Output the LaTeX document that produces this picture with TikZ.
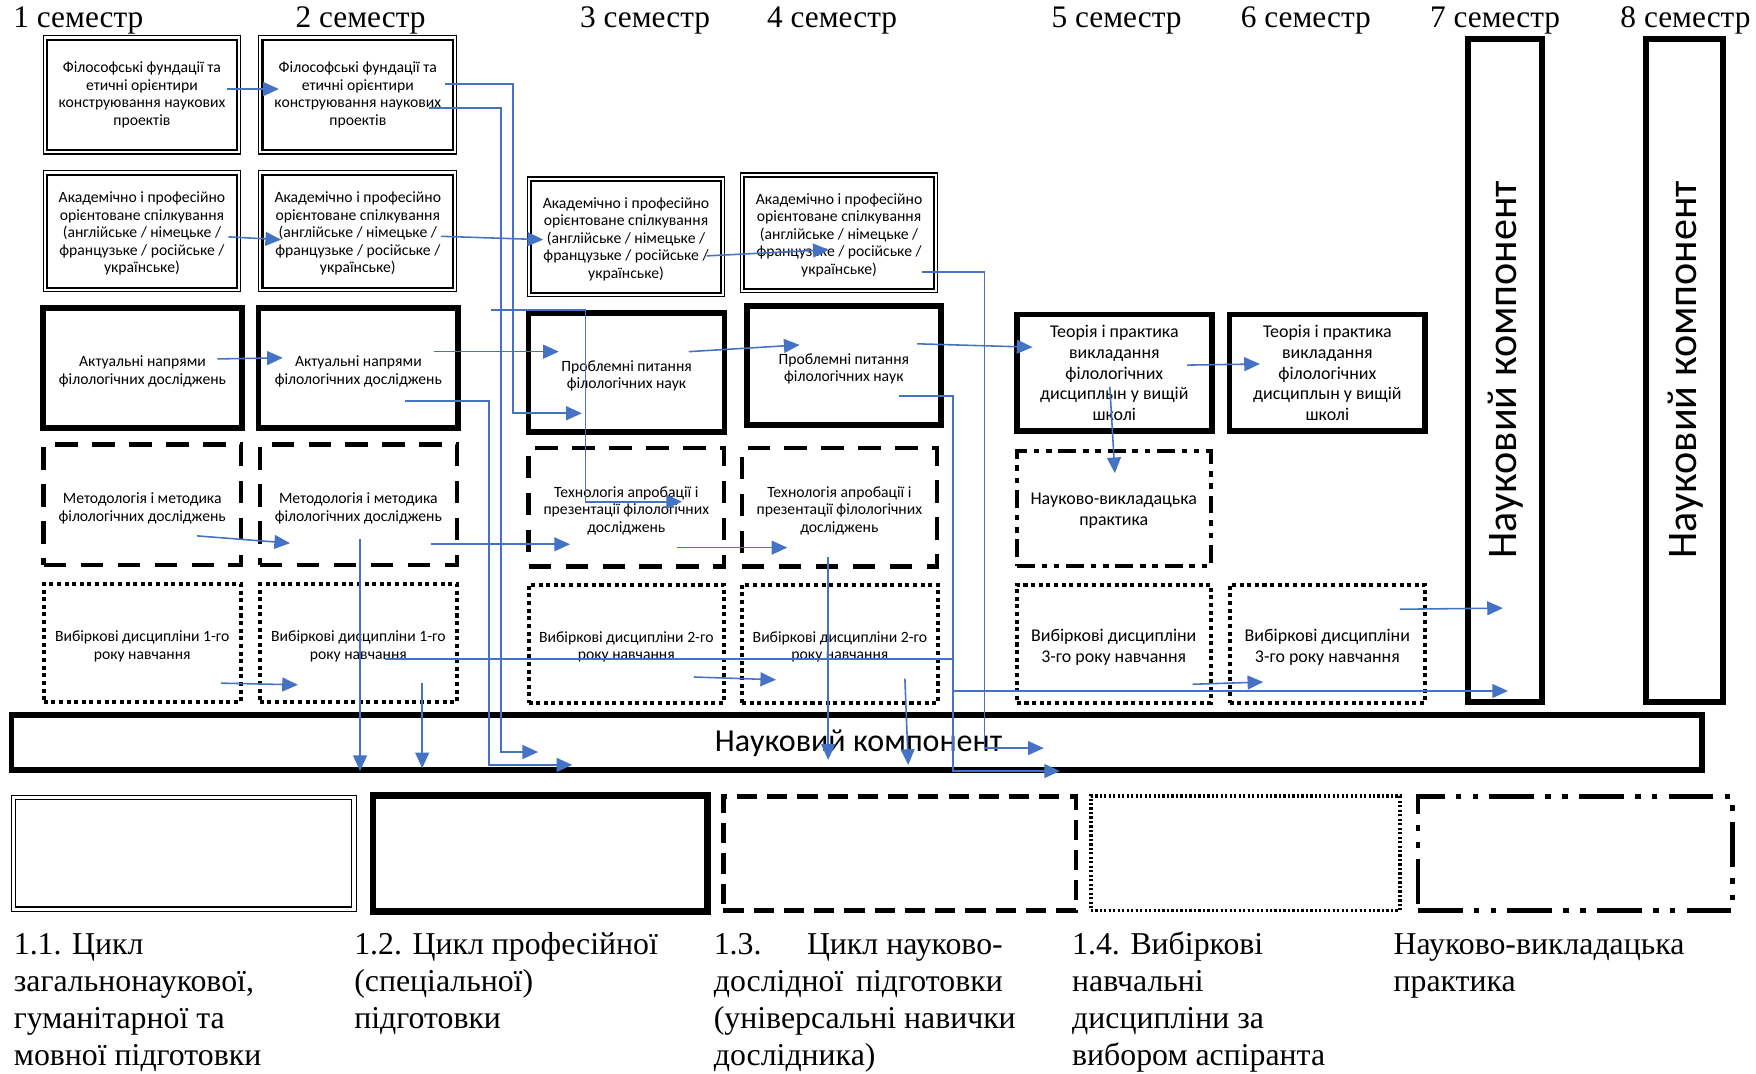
\documentclass[tikz,border=0pt]{standalone}
\usepackage{fontspec}
\setmainfont{Liberation Serif}
\newfontfamily\calib{Carlito}
\usetikzlibrary{arrows.meta,fit}
\definecolor{arrowblue}{RGB}{68,114,196}
\newcommand\smallf{\calib\fontsize{7}{7.85}\selectfont}
\newcommand\largef{\calib\fontsize{8}{9.2}\selectfont}
\begin{document}
\begin{tikzpicture}[x=0.5pt,y=-0.5pt,
  bx/.style={inner sep=0pt, outer sep=0pt},
  txt/.style={inner sep=0pt, align=center, font=\smallf},
  bigtxt/.style={inner sep=0pt, align=center, font=\largef},
  dbl/.style={bx, draw, line width=0.5pt},
  thk/.style={bx, draw, line width=2.5pt},
  dsh/.style={bx, draw, line width=2pt, dash pattern=on 10pt off 6.5pt},
  dtt/.style={bx, draw, line width=1.8pt, dash pattern=on 1.8pt off 1.6pt},
  ddd/.style={bx, draw, line width=1.8pt, dash pattern=on 8pt off 3pt on 2.5pt off 3pt on 2.5pt off 3pt},
  arr/.style={draw=arrowblue, line width=0.7pt, -{Triangle[length=7pt,width=6.2pt]}},
  sem/.style={font=\fontsize{14}{16}\selectfont, anchor=base, inner sep=0pt},
  leg/.style={font=\fontsize{14.2}{16.4}\selectfont, anchor=base west, align=left, inner sep=0pt}]
\useasboundingbox (0,0) rectangle (1568,959);

% semester labels
\node[sem] (s1) at (70,25) {1 семестр};
\node[sem] (s2) at (322,25) {2 семестр};
\node[sem] (s3) at (576,25) {3 семестр};
\node[sem] (s4) at (743,25) {4 семестр};
\node[sem] (s5) at (997,25) {5 семестр};
\node[sem] (s6) at (1166,25) {6 семестр};
\node[sem] (s7) at (1335,25) {7 семестр};
\node[sem] (s8) at (1505,25) {8 семестр};

% boxes
\node[dbl, fit={(38.5,32)(215,137.5)}] (A1) {};
\node[dbl, fit={(231,32)(408,137.5)}] (A2) {};
\node[dbl, fit={(38.5,152.5)(215,260.5)}] (B1) {};
\node[dbl, fit={(231,152.5)(408,260.5)}] (B2) {};
\node[dbl, fit={(471,158)(647,265)}] (B3) {};
\node[dbl, fit={(661,154.5)(837.5,261.5)}] (B4) {};
\foreach \n in {A1,A2,B1,B2,B3,B4}
  \draw[line width=0.9pt] ([shift={(1.7pt,-1.7pt)}]\n.north west) rectangle ([shift={(-1.7pt,1.7pt)}]\n.south east);
\node[thk, fit={(38.5,275)(216,382)}] (C1) {};
\node[thk, fit={(231,275)(409,382)}] (C2) {};
\node[thk, fit={(472,279.5)(647,385.5)}] (C3) {};
\node[thk, fit={(667,273)(840,379.5)}] (C4) {};
\node[thk, fit={(908,281)(1082,385)}] (C5) {};
\node[thk, fit={(1098,281)(1272.5,385)}] (C6) {};
\node[dsh, fit={(39,397)(215,504.5)}] (D1) {};
\node[dsh, fit={(232,397)(408,504.5)}] (D2) {};
\node[dsh, fit={(472,400)(646.5,506)}] (D3) {};
\node[dsh, fit={(662.5,400)(836.5,506)}] (D4) {};
\node[ddd, fit={(908,402.5)(1081,505.5)}] (D5) {};
\node[dtt, fit={(39,521.5)(215,627)}] (E1) {};
\node[dtt, fit={(232,521.5)(408,627)}] (E2) {};
\node[dtt, fit={(472,522)(646.5,627.5)}] (E3) {};
\node[dtt, fit={(662.5,522)(837.5,627.5)}] (E4) {};
\node[dtt, fit={(908,522)(1081,627.5)}] (E5) {};
\node[dtt, fit={(1098,522)(1272.5,627.5)}] (E6) {};

% box texts
\foreach \n in {A1,A2}
  \node[txt] (\n t) at (\n.center) {Філософські фундації та\\етичні орієнтири\\конструювання наукових\\проектів};
\foreach \n in {B1,B2,B3,B4}
  \node[txt] (\n t) at ([yshift=-1pt]\n.center) {Академічно і професійно\\орієнтоване спілкування\\(англійське / німецьке /\\французьке / російське /\\українське)};
\foreach \n in {C1,C2}
  \node[txt] (\n t) at ([yshift=-1.5pt]\n.center) {Актуальні напрями\\філологічних досліджень};
\foreach \n in {C3,C4}
  \node[txt] (\n t) at ([yshift=-1.5pt]\n.center) {Проблемні питання\\філологічних наук};
\foreach \n in {C5,C6}
  \node[bigtxt] (\n t) at (\n.center) {Теорія і практика\\викладання\\філологічних\\дисциплын у вищій\\школі};
\foreach \n in {D1,D2}
  \node[txt] (\n t) at ([yshift=-1.5pt]\n.center) {Методологія і методика\\філологічних досліджень};
\foreach \n in {D3,D4}
  \node[txt] (\n t) at ([yshift=-1.5pt]\n.center) {Технологія апробації і\\презентації філологічних\\досліджень};
\node[bigtxt] (D5t) at ([yshift=-1pt]D5.center) {Науково-викладацька\\практика};
\node[txt] (E1t) at ([yshift=-1.5pt]E1.center) {Вибіркові дисципліни 1-го\\року навчання};
\node[txt] (E2t) at ([yshift=-1.5pt]E2.center) {Вибіркові дисципліни 1-го\\року навчання};
\node[txt] (E3t) at ([yshift=-1.5pt]E3.center) {Вибіркові дисципліни 2-го\\року навчання};
\node[txt] (E4t) at ([yshift=-1.5pt]E4.center) {Вибіркові дисципліни 2-го\\року навчання};
\node[bigtxt] (E5t) at ([yshift=-1.5pt]E5.center) {Вибіркові дисципліни\\3-го року навчання};
\node[bigtxt] (E6t) at ([yshift=-1.5pt]E6.center) {Вибіркові дисципліни\\3-го року навчання};

% scientific component bars
\node[thk, fit={(10.3,638.5)(1520,687.6)}] (Bar) {};
\node[font=\calib\fontsize{14.3}{16}\selectfont, anchor=base, inner sep=0pt] (Bart) at (766.6,671) {Науковий компонент};
\node[thk, fit={(1311,35)(1377,627)}] (V7) {};
\node[thk, fit={(1470,35)(1538.5,627)}] (V8) {};
\node[font=\calib\fontsize{18.8}{20}\selectfont, rotate=90, anchor=base, inner sep=0pt] (V7t) at (1354,330) {Науковий компонент};
\node[font=\calib\fontsize{18.8}{20}\selectfont, rotate=90, anchor=base, inner sep=0pt] (V8t) at (1515,330) {Науковий компонент};

% legend boxes
\node[dbl, fit={(10,710)(318,814)}] (L1) {};
\draw[line width=0.7pt] ([shift={(2pt,-2pt)}]L1.north west) rectangle ([shift={(-2pt,2pt)}]L1.south east);
\node[bx, draw, line width=3pt, fit={(333,710)(632,814)}] (L2) {};
\node[bx, draw, line width=2pt, dash pattern=on 9pt off 4.5pt, fit={(646,711)(961,813)}] (L3) {};
\node[bx, draw, line width=1.6pt, dash pattern=on 1pt off 1pt, fit={(974,711)(1250,813)}] (L4) {};
\node[bx, draw, line width=2pt, dash pattern=on 20pt off 5pt on 2.5pt off 5pt on 2.5pt off 5pt, fit={(1266,711)(1547,813)}] (L5) {};

% legend texts (anchor at the baseline of the last line)
\node[leg] (T1) at (12,951) {1.1. Цикл\\загальнонаукової,\\гуманітарної та\\мовної підготовки};
\node[leg] (T2) at (316,918.2) {1.2. Цикл професійної\\(спеціальної)\\підготовки};
\node[leg] (T3) at (637,951) {\makebox[129pt][l]{1.3.\hfill Цикл науково-}\\\makebox[129pt][l]{дослідної\hfill підготовки}\\(універсальні навички\\дослідника)};
\node[leg] (T4) at (957,951) {1.4. Вибіркові\\навчальні\\дисципліни за\\вибором аспіранта};
\node[leg] (T5) at (1244,885.4) {Науково-викладацька\\практика};

% arrow end points
\coordinate (a1s) at (203,79.5);  \coordinate (a1e) at (249,79.5);
\coordinate (a2s) at (397,75);    \coordinate (a2b) at (458,75);  \coordinate (a2c) at (458,369); \coordinate (a2e) at (519.5,369);
\coordinate (a3s) at (383,96.5);  \coordinate (a3b) at (447.5,96.5); \coordinate (a3c) at (447.5,671.5); \coordinate (a3e) at (480.5,671.5);
\coordinate (a4s) at (204,211.5); \coordinate (a4e) at (251,214);
\coordinate (a5s) at (394,211);   \coordinate (a5e) at (485,214);
\coordinate (a6s) at (631,228.5); \coordinate (a6e) at (740,223);
\coordinate (a7s) at (823,243);   \coordinate (a7b) at (879,243); \coordinate (a7c) at (879,668); \coordinate (a7e) at (932,668);
\coordinate (a8s) at (194,320.5); \coordinate (a8e) at (252.5,319.5);
\coordinate (a9s) at (387.5,314); \coordinate (a9e) at (499,314);
\coordinate (a10s) at (362,358);  \coordinate (a10b) at (436.5,358); \coordinate (a10c) at (436.5,683); \coordinate (a10e) at (511,683);
\coordinate (a11s) at (438.5,277); \coordinate (a11b) at (523,277); \coordinate (a11c) at (523,448); \coordinate (a11e) at (609,448);
\coordinate (a12s) at (615,314);  \coordinate (a12e) at (714,308);
\coordinate (a13s) at (819,307);  \coordinate (a13e) at (922,310);
\coordinate (a14s) at (1060,326); \coordinate (a14e) at (1125,325);
\coordinate (a15s) at (991,345.5); \coordinate (a15e) at (995.5,422.5);
\coordinate (a16s) at (176,478.5); \coordinate (a16e) at (259,485);
\coordinate (a17s) at (385,486);  \coordinate (a17e) at (509,486);
\coordinate (a18s) at (321.5,481); \coordinate (a18e) at (321.5,688.5);
\coordinate (a19s) at (604.5,489); \coordinate (a19e) at (703,489);
\coordinate (a20s) at (739.5,497.5); \coordinate (a20e) at (739.5,678.5);
\coordinate (a21s) at (197.5,610); \coordinate (a21e) at (266,611.5);
\coordinate (a22s) at (377,610);  \coordinate (a22e) at (377,686);
\coordinate (a23s) at (344,588.5); \coordinate (a23b) at (851,588.5); \coordinate (a23c) at (851,617); \coordinate (a23e) at (1346.5,617);
\coordinate (a24s) at (619.5,604.5); \coordinate (a24e) at (693,607);
\coordinate (a25s) at (808,606);  \coordinate (a25e) at (811,683);
\coordinate (a26s) at (1065,611); \coordinate (a26e) at (1128,609);
\coordinate (a27s) at (1250,544); \coordinate (a27e) at (1342,543);
\coordinate (a28s) at (803,353.5); \coordinate (a28b) at (851,353.5); \coordinate (a28c) at (851,688.5); \coordinate (a28e) at (946.5,688.5);

% arrows
\draw[arr] (a1s) -- (a1e);
\draw[arr] (a2s) -- (a2b) -- (a2c) -- (a2e);
\draw[arr] (a3s) -- (a3b) -- (a3c) -- (a3e);
\draw[arr] (a4s) -- (a4e);
\draw[arr] (a5s) -- (a5e);
\draw[arr] (a6s) -- (a6e);
\draw[arr] (a7s) -- (a7b) -- (a7c) -- (a7e);
\draw[arr] (a8s) -- (a8e);
\draw[arr] (a9s) -- (a9e);
\draw[arr] (a10s) -- (a10b) -- (a10c) -- (a10e);
\draw[arr] (a11s) -- (a11b) -- (a11c) -- (a11e);
\draw[arr] (a12s) -- (a12e);
\draw[arr] (a13s) -- (a13e);
\draw[arr] (a14s) -- (a14e);
\draw[arr] (a15s) -- (a15e);
\draw[arr] (a16s) -- (a16e);
\draw[arr] (a17s) -- (a17e);
\draw[arr] (a18s) -- (a18e);
\draw[arr] (a19s) -- (a19e);
\draw[arr] (a20s) -- (a20e);
\draw[arr] (a21s) -- (a21e);
\draw[arr] (a22s) -- (a22e);
\draw[arr] (a23s) -- (a23b) -- (a23c) -- (a23e);
\draw[arr] (a24s) -- (a24e);
\draw[arr] (a25s) -- (a25e);
\draw[arr] (a26s) -- (a26e);
\draw[arr] (a27s) -- (a27e);
\draw[arr] (a28s) -- (a28b) -- (a28c) -- (a28e);
\end{tikzpicture}
\end{document}
